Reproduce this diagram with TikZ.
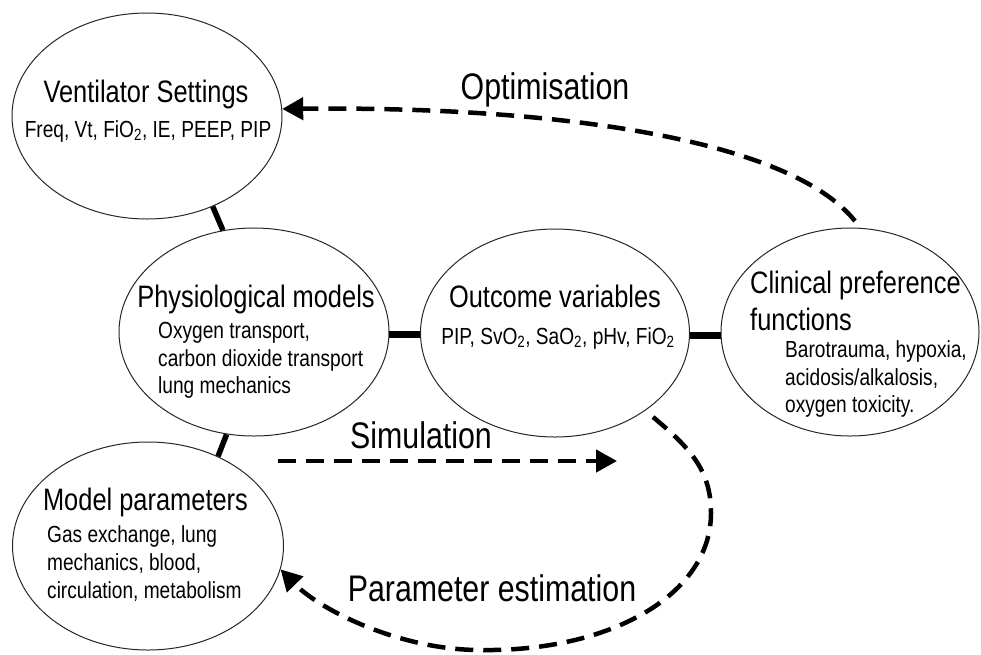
\documentclass[tikz,border=0pt]{standalone}
\usepackage{fontspec}
\setmainfont{Liberation Sans}[FakeStretch=0.82]
\usetikzlibrary{arrows.meta,shapes.geometric}
\begin{document}
\begin{tikzpicture}[x=1pt,y=-1pt,
  oval/.style={ellipse, draw=black!85, line width=1pt, inner sep=0pt},
  title/.style={inner sep=0pt, anchor=base, font=\fontsize{31}{37}\selectfont},
  titlew/.style={inner sep=0pt, anchor=base west, font=\fontsize{31}{37}\selectfont},
  sub/.style={inner sep=0pt, anchor=base west, font=\fontsize{23.3}{28}\selectfont},
  subc/.style={inner sep=0pt, anchor=base, font=\fontsize{23.3}{28}\selectfont},
  lbl/.style={inner sep=0pt, anchor=base, font=\fontsize{37}{44}\selectfont},
  link/.style={line width=5.5pt, black},
  hlink/.style={line width=7pt, black},
  flow/.style={line width=4.5pt, dash pattern=on 18pt off 10pt, black,
    -{Triangle[length=21pt,width=22pt]}}]
\useasboundingbox (0,0) rectangle (981,654);
% ovals
\node[oval, minimum width=270pt, minimum height=206pt] (vent) at (147,116) {};
\node[oval, minimum width=270pt, minimum height=208pt] (phys) at (254,332) {};
\node[oval, minimum width=269pt, minimum height=208pt] (outc) at (555,333) {};
\node[oval, minimum width=258pt, minimum height=208pt] (clin) at (850,332) {};
\node[oval, minimum width=271pt, minimum height=208pt] (mpar) at (148,546) {};
% texts
\node[title] (vt) at (146,102) {Ventilator Settings};
\node[subc] (vs) at (148,137) {Freq, Vt, FiO\textsubscript{2}, IE, PEEP, PIP};
\node[title] (pt) at (256,307) {Physiological models};
\node[sub] (ps1) at (158,338) {Oxygen transport,};
\node[sub] (ps2) at (158,366) {carbon dioxide transport};
\node[sub] (ps3) at (158,393) {lung mechanics};
\node[title] (ot) at (555,307) {Outcome variables};
\node[subc] (os) at (558,344) {PIP, SvO\textsubscript{2}, SaO\textsubscript{2}, pHv, FiO\textsubscript{2}};
\node[titlew] (ct1) at (750,293) {Clinical preference};
\node[titlew] (ct2) at (750,330) {functions};
\node[sub] (cs1) at (785,357) {Barotrauma, hypoxia,};
\node[sub] (cs2) at (785,385) {acidosis/alkalosis,};
\node[sub] (cs3) at (785,412) {oxygen toxicity.};
\node[title] (mt) at (145.5,510) {Model parameters};
\node[sub] (ms1) at (47,542) {Gas exchange, lung};
\node[sub] (ms2) at (47,570) {mechanics, blood,};
\node[sub] (ms3) at (47,598) {circulation, metabolism};
% arrow labels
\node[lbl] (lopt) at (545,99) {Optimisation};
\node[lbl] (lsim) at (421,448) {Simulation};
\node[lbl] (lpe) at (492,601) {Parameter estimation};
% solid links
\draw[link] (vent.-54.5) -- (phys.107);
\draw[link] (phys.-105.7) -- (mpar.52.6);
\draw[hlink] (phys.-1) -- (phys.-1 -| outc.west);
\draw[hlink] (outc.-1) -- (outc.-1 -| clin.west);
% dashed flows
\coordinate (optS) at (855,221);
\draw[flow] (optS) .. controls (790,140) and (560,106) .. (vent.3);
\coordinate (simS) at (278,461);
\coordinate (simE) at (617,461);
\draw[flow] (simS) -- (simE);
\coordinate (peS) at (653,417);
\coordinate (peR) at (711,513);
\coordinate (peB) at (480,650);
\draw[flow] (peS) .. controls (690,448) and (711,470) .. (peR)
  .. controls (711,595) and (610,652) .. (peB)
  .. controls (400,650) and (320,610) .. (mpar.-10);
\end{tikzpicture}
\end{document}
